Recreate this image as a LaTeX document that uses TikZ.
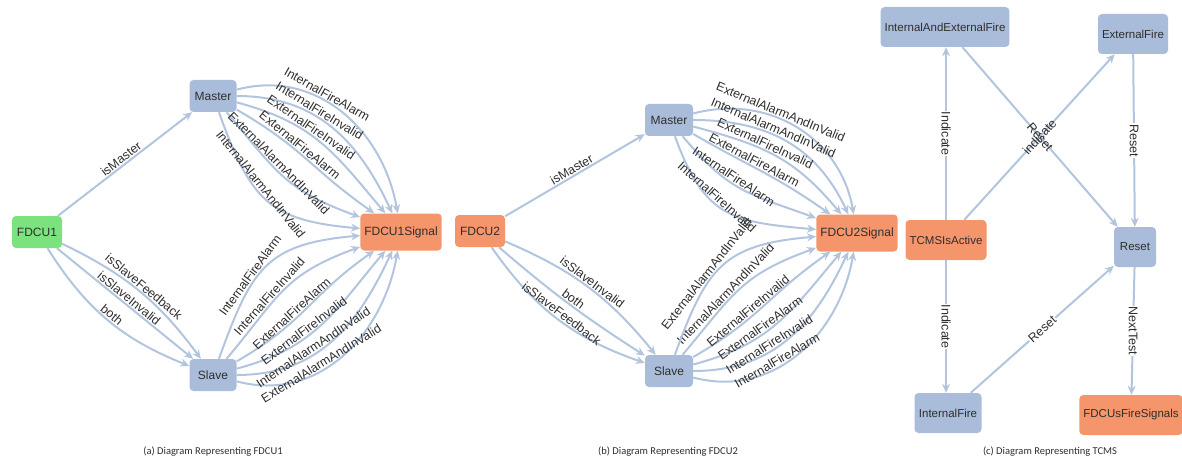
\documentclass[tikz,border=0pt]{standalone}
\usepackage{fontspec}
\setmainfont{Liberation Sans}
\newfontfamily\capfont{Carlito}
\usetikzlibrary{arrows.meta}
\definecolor{nodeblue}{HTML}{A9BCD9}
\definecolor{nodeorange}{HTML}{F5956B}
\definecolor{nodegreen}{HTML}{7CE27E}
\definecolor{edgeblue}{HTML}{B3C5DE}
\definecolor{txt}{HTML}{2E2E2E}
\begin{document}
\begin{tikzpicture}[x=1pt,y=1pt,
  box/.style={rounded corners=4pt, inner xsep=4pt, minimum height=32pt,
    font=\fontsize{12}{13}\selectfont, text=txt},
  bluebox/.style={box, fill=nodeblue},
  orangebox/.style={box, fill=nodeorange},
  greenbox/.style={box, fill=nodegreen},
  tallbox/.style={minimum height=40pt, font=\fontsize{11.5}{12}\selectfont},
  link/.style={draw=edgeblue, line width=2pt, -{Stealth[length=9pt,width=8pt]}},
  lbl/.style={font=\fontsize{12.5}{13}\selectfont, text=txt, sloped, above, inner sep=1pt},
  clbl/.style={font=\fontsize{12.5}{13}\selectfont, text=txt, inner sep=1pt},
  caption/.style={font=\capfont\fontsize{10.5}{11}\selectfont, text=txt}
]
\useasboundingbox (0,0) rectangle (1182,-465);

% ---------- (a) FDCU1 ----------
\node[greenbox, minimum width=50pt] (fdcuA) at (37,-232) {FDCU1};
\node[bluebox, minimum width=47pt] (masterA) at (213,-96) {Master};
\node[bluebox, minimum width=47pt] (slaveA) at (213,-375) {Slave};
\node[orangebox, minimum width=78pt, minimum height=37pt] (sigA) at (401,-232) {FDCU1Signal};

\draw[link] (fdcuA) -- node[lbl]{isMaster} (masterA);
\draw[link] (fdcuA) to[bend left=14] node[lbl]{isSlaveFeedback} (slaveA);
\draw[link] (fdcuA) to node[lbl]{isSlaveInvalid} (slaveA);
\draw[link] (fdcuA) to[bend right=18] node[lbl]{both} (slaveA);

\foreach \o/\i/\l/\t in {15/100/1.05/InternalFireAlarm, 0/115/1.05/InternalFireInvalid,
    -15/130/1.1/ExternalFireInvalid, -30/145/1.15/ExternalFireAlarm,
    -50/160/1.2/ExternalAlarmAndInValid, -70/175/1.3/InternalAlarmAndInValid}
  \draw[link] (masterA) to[out=\o,in=\i,looseness=\l] node[lbl,pos=.4]{\t} (sigA);

\foreach \o/\i/\l/\t in {-15/-100/1.05/ExternalAlarmAndInValid, 0/-115/1.05/InternalAlarmAndInValid,
    15/-130/1.1/ExternalFireInvalid, 30/-145/1.15/ExternalFireAlarm,
    50/-160/1.2/InternalFireInvalid, 70/-175/1.3/InternalFireAlarm}
  \draw[link] (slaveA) to[out=\o,in=\i,looseness=\l] node[lbl,pos=.4]{\t} (sigA);

\node[caption] (capA) at (213,-452) {(a) Diagram Representing FDCU1};

% ---------- (b) FDCU2 ----------
\node[orangebox, minimum width=50pt] (fdcuB) at (480,-231) {FDCU2};
\node[bluebox, minimum width=48pt] (masterB) at (669,-120) {Master};
\node[bluebox, minimum width=48pt] (slaveB) at (669,-371) {Slave};
\node[orangebox, minimum width=78pt, minimum height=37pt] (sigB) at (857,-233) {FDCU2Signal};

\draw[link] (fdcuB) -- node[lbl]{isMaster} (masterB);
\draw[link] (fdcuB) to[bend left=14] node[lbl]{isSlaveInvalid} (slaveB);
\draw[link] (fdcuB) to[bend right=4] node[lbl]{both} (slaveB);
\draw[link] (fdcuB) to[bend right=18] node[lbl]{isSlaveFeedback} (slaveB);

\foreach \o/\i/\l/\t in {15/100/1.05/ExternalAlarmAndInValid, 0/115/1.05/InternalAlarmAndInValid,
    -15/130/1.1/ExternalFireInvalid, -30/145/1.15/ExternalFireAlarm,
    -50/160/1.2/InternalFireAlarm, -70/175/1.3/InternalFireInvalid}
  \draw[link] (masterB) to[out=\o,in=\i,looseness=\l] node[lbl,pos=.4]{\t} (sigB);

\foreach \o/\i/\l/\t in {-15/-100/1.05/InternalFireAlarm, 0/-115/1.05/InternalFireInvalid,
    15/-130/1.1/ExternalFireAlarm, 30/-145/1.15/ExternalFireInvalid,
    50/-160/1.2/InternalAlarmAndInValid, 70/-175/1.3/ExternalAlarmAndInValid}
  \draw[link] (slaveB) to[out=\o,in=\i,looseness=\l] node[lbl,pos=.4]{\t} (sigB);

\node[caption] (capB) at (668,-452) {(b) Diagram Representing FDCU2};

% ---------- (c) TCMS ----------
\node[bluebox, tallbox, minimum width=125pt] (iaef) at (945,-27) {InternalAndExternalFire};
\node[bluebox, tallbox, minimum width=70pt] (extf) at (1133,-34) {ExternalFire};
\node[orangebox, tallbox, minimum width=81pt] (tcms) at (946,-240) {TCMSIsActive};
\node[bluebox, tallbox, minimum width=42pt] (reset) at (1135,-247) {Reset};
\node[bluebox, tallbox, minimum width=67pt] (intf) at (948,-413) {InternalFire};
\node[orangebox, tallbox, minimum width=96pt] (fdcus) at (1131,-415) {FDCUsFireSignals};

\draw[link] (tcms.north) -- node[clbl, fill=white, rotate=-90]{Indicate} (tcms.north |- iaef.south);
\draw[link] (tcms.south) -- node[clbl, fill=white, rotate=-90]{Indicate} (tcms.south |- intf.north);
\draw[link] (tcms) -- node[clbl, sloped]{indicate} (extf);
\draw[link] (iaef) -- node[clbl, sloped]{Reset} (reset);
\draw[link] (extf) -- node[clbl, fill=white, rotate=-90]{Reset} (reset);
\draw[link] (intf) -- node[clbl, sloped, fill=white]{Reset} (reset);
\draw[link] (reset) -- node[clbl, fill=white, rotate=-90]{NextTest} (fdcus);

\node[caption] (capC) at (1050,-452) {(c) Diagram Representing TCMS};
\end{tikzpicture}
\end{document}
